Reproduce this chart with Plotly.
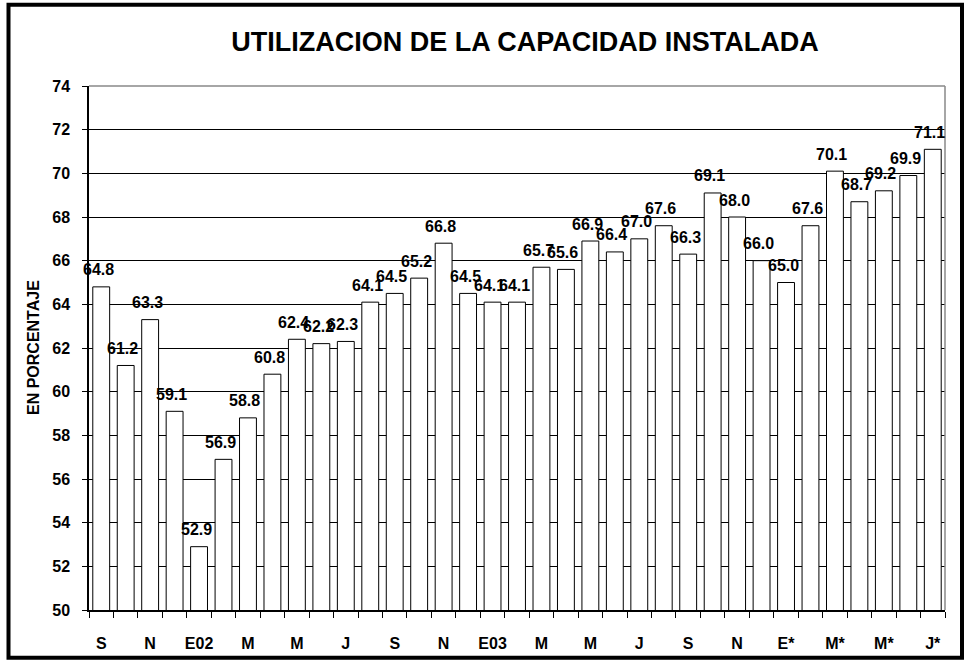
import plotly.graph_objects as go

months = ["S01", "O01", "N01", "D01", "E02", "F02", "M02", "A02", "MY02", "J02", "JL02", "AG02",
          "S02", "O02", "N02", "D02", "E03", "F03", "M03", "A03", "MY03", "J03", "JL03", "AG03",
          "S03", "O03", "N03", "D03", "E04", "F04", "M04", "A04", "MY04", "J04", "JL04"]
values = [64.8, 61.2, 63.3, 59.1, 52.9, 56.9, 58.8, 60.8, 62.4, 62.2, 62.3, 64.1,
          64.5, 65.2, 66.8, 64.5, 64.1, 64.1, 65.7, 65.6, 66.9, 66.4, 67.0, 67.6,
          66.3, 69.1, 68.0, 66.0, 65.0, 67.6, 70.1, 68.7, 69.2, 69.9, 71.1]
tick_positions = [0, 2, 4, 6, 8, 10, 12, 14, 16, 18, 20, 22, 24, 26, 28, 30, 32, 34]
tick_labels = ["S", "N", "E02", "M", "M", "J", "S", "N", "E03", "M", "M", "J",
               "S", "N", "E*", "M*", "M*", "J*"]
title_text = "UTILIZACION DE LA CAPACIDAD INSTALADA"
y_title = "EN PORCENTAJE"

FONT = "Arial, 'Liberation Sans', sans-serif"
W, H = 966, 664
L, R, T, B = 89, 21, 86, 52
PW, PH = W - L - R, H - T - B

def px_x(p):
    return (p - L) / PW

def px_y(p):
    return (H - B - p) / PH

idx = list(range(len(values)))

fig = go.Figure()
fig.add_trace(go.Bar(
    x=idx, y=values,
    marker=dict(color="white", line=dict(color="black", width=1)),
    hoverinfo="x+y",
))

annotations = []
for i, v in zip(idx, values):
    annotations.append(dict(
        x=i, y=v, xref="x", yref="y", text=f"{v:.1f}", showarrow=False,
        yanchor="middle", xanchor="center", yshift=17, xshift=-3,
        font=dict(family=FONT, size=16, color="black", weight="bold"),
    ))
annotations.append(dict(
    x=px_x(33), y=0.5, xref="paper", yref="paper", text=y_title, showarrow=False,
    textangle=-90, xanchor="center", yanchor="middle",
    font=dict(family=FONT, size=16, color="black", weight="bold"),
))

shapes = [
    dict(type="line", xref="paper", yref="paper", x0=0, x1=1, y0=1, y1=1,
         line=dict(color="#888888", width=1.5), layer="above"),
    dict(type="line", xref="paper", yref="paper", x0=1, x1=1, y0=0, y1=1,
         line=dict(color="#888888", width=1.5), layer="above"),
    dict(type="rect", xref="paper", yref="paper",
         x0=px_x(8.5), x1=px_x(962), y0=px_y(660), y1=px_y(4.5),
         line=dict(color="black", width=4), layer="above"),
]

fig.update_layout(
    width=W, height=H,
    margin=dict(l=L, r=R, t=T, b=B),
    paper_bgcolor="white", plot_bgcolor="white",
    showlegend=False,
    bargap=0.31,
    title=dict(text=title_text, x=px_x(525), xref="paper", xanchor="center",
               y=1 - 42 / H, yref="container", yanchor="middle",
               font=dict(family=FONT, size=27, color="black", weight="bold")),
    font=dict(family=FONT, color="black"),
    annotations=annotations,
    shapes=shapes,
)
fig.update_xaxes(
    range=[-0.5, len(values) - 0.5],
    tickmode="array", tickvals=tick_positions, ticktext=tick_labels,
    ticks="", showgrid=False, zeroline=False,
    showline=True, linecolor="black", linewidth=1.5,
    tickfont=dict(family=FONT, size=16, color="black", weight="bold"),
    ticklabelstandoff=18,
    minor=dict(tickmode="array", tickvals=[i - 0.5 for i in range(len(values) + 1)],
               ticks="outside", ticklen=6, tickcolor="black", tickwidth=1, showgrid=False),
)
fig.update_yaxes(
    range=[50, 74], dtick=2, tick0=50,
    showgrid=True, gridcolor="black", gridwidth=1,
    zeroline=False,
    showline=True, linecolor="black", linewidth=1.5,
    ticks="outside", ticklen=5, tickcolor="black",
    tickfont=dict(family=FONT, size=16, color="black", weight="bold"),
    ticklabelstandoff=9,
)

fig.write_html("out.html", config={"displayModeBar": False},
               post_script="document.body.style.margin='0';")
